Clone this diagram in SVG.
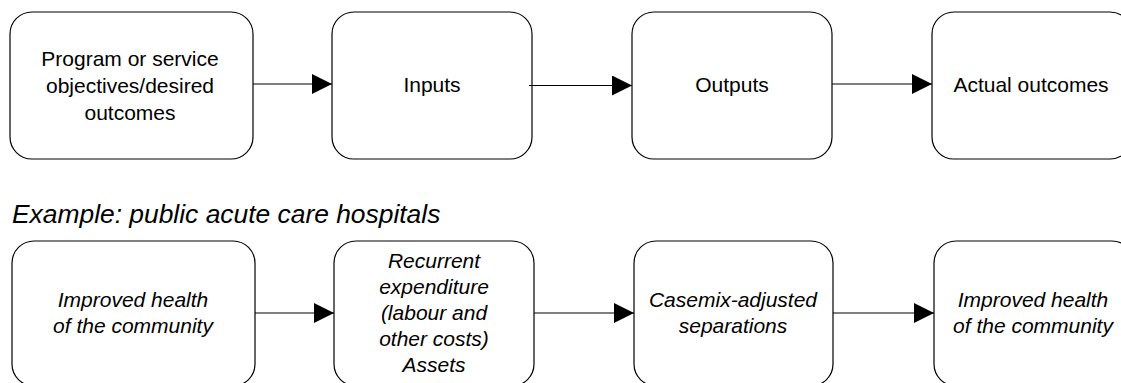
<svg xmlns="http://www.w3.org/2000/svg" width="1121" height="383" viewBox="0 0 1121 383">
<style>
.box{fill:#fff;stroke:#000;stroke-width:1.2}
.t{font-family:"Liberation Sans",Arial,sans-serif;font-size:21px;fill:#000;text-anchor:middle}
.i{font-style:italic}
.title{font-family:"Liberation Sans",Arial,sans-serif;font-size:26.4px;font-style:italic;fill:#000}
.c{fill:none;stroke:#000;stroke-width:1.2}
</style>
<defs>
<marker id="ah" markerUnits="userSpaceOnUse" markerWidth="20" markerHeight="20" refX="20" refY="10" orient="auto">
<path d="M0,0 L20,10 L0,20 Z" fill="#000"/>
</marker>
</defs>
<rect width="1121" height="383" fill="#fff"/>
<g id="n1"><rect class="box" x="10" y="12" width="243" height="147" rx="22"/>
<text class="t" x="130" y="66">Program or service</text>
<text class="t" x="130" y="93">objectives/desired</text>
<text class="t" x="130" y="120">outcomes</text></g>
<g id="n2"><rect class="box" x="332" y="12" width="200" height="147" rx="22"/>
<text class="t" x="432" y="92">Inputs</text></g>
<g id="n3"><rect class="box" x="632" y="12" width="200" height="147" rx="22"/>
<text class="t" x="732" y="92">Outputs</text></g>
<g id="n4"><rect class="box" x="932" y="12" width="200" height="147" rx="22"/>
<text class="t" x="1031" y="92">Actual outcomes</text></g>
<text class="title" x="12" y="223">Example: public acute care hospitals</text>
<g id="m1"><rect class="box" x="12" y="241" width="243" height="145" rx="22"/>
<text class="t i" x="133" y="307">Improved health</text>
<text class="t i" x="133" y="333">of the community</text></g>
<g id="m2"><rect class="box" x="334" y="241" width="200" height="145" rx="22"/>
<text class="t i" x="434" y="268">Recurrent</text>
<text class="t i" x="434" y="294">expenditure</text>
<text class="t i" x="434" y="320">(labour and</text>
<text class="t i" x="434" y="346">other costs)</text>
<text class="t i" x="434" y="372">Assets</text></g>
<g id="m3"><rect class="box" x="634" y="241" width="199" height="145" rx="22"/>
<text class="t i" x="733" y="307">Casemix-adjusted</text>
<text class="t i" x="733" y="333">separations</text></g>
<g id="m4"><rect class="box" x="934" y="241" width="200" height="145" rx="22"/>
<text class="t i" x="1033" y="307">Improved health</text>
<text class="t i" x="1033" y="333">of the community</text></g>
<g id="connectors">
<line class="c" x1="253" y1="84" x2="332" y2="84" marker-end="url(#ah)"/>
<line class="c" x1="529" y1="85.5" x2="632" y2="85.5" marker-end="url(#ah)"/>
<line class="c" x1="832" y1="84" x2="932" y2="84" marker-end="url(#ah)"/>
<line class="c" x1="255" y1="313" x2="334" y2="313" marker-end="url(#ah)"/>
<line class="c" x1="534" y1="313" x2="634" y2="313" marker-end="url(#ah)"/>
<line class="c" x1="833" y1="313" x2="934" y2="313" marker-end="url(#ah)"/>
</g>
</svg>
